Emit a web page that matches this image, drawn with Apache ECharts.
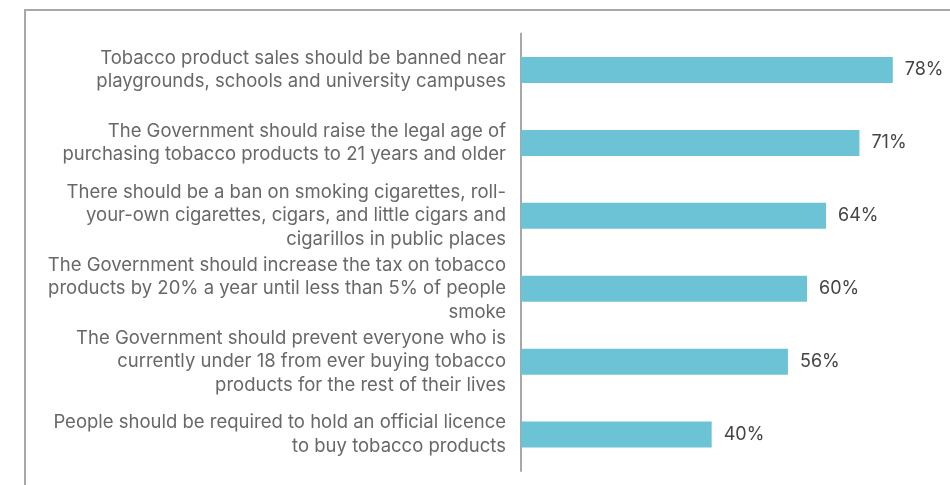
<!DOCTYPE html>
<html>
<head>
<meta charset="utf-8">
<script src="https://cdn.jsdelivr.net/npm/echarts@6/dist/echarts.min.js"></script>
<style>
  html, body { margin: 0; padding: 0; background: #fff; }
  #chart { width: 950px; height: 485px; }
</style>
</head>
<body>
<div id="chart"></div>
<script>
// Survey statements (top to bottom) and the share who agree with each
const statements = [
  'Tobacco product sales should be banned near\nplaygrounds, schools and university campuses',
  'The Government should raise the legal age of\npurchasing tobacco products to 21 years and older',
  'There should be a ban on smoking cigarettes, roll-\nyour-own cigarettes, cigars, and little cigars and\ncigarillos in public places',
  'The Government should increase the tax on tobacco\nproducts by 20% a year until less than 5% of people\nsmoke',
  'The Government should prevent everyone who is\ncurrently under 18 from ever buying tobacco\nproducts for the rest of their lives',
  'People should be required to hold an official licence\nto buy tobacco products'
];
const agreePct = [78, 71, 64, 60, 56, 40];

const textFont = 'Inter, Liberation Sans, Arial, sans-serif';

const chart = echarts.init(document.getElementById('chart'), null, { renderer: 'canvas' });

chart.setOption({
  animation: false,
  backgroundColor: '#ffffff',
  graphic: [{
    type: 'rect',
    shape: { x: 25, y: 10, width: 1000, height: 1000 },
    style: { fill: 'none', stroke: '#a8a8a8', lineWidth: 2 },
    silent: true
  }],
  grid: { left: 521, right: 0, top: 33.5, bottom: 14, containLabel: false },
  xAxis: {
    type: 'value',
    min: 0,
    max: 90,
    show: false
  },
  yAxis: {
    type: 'category',
    inverse: true,
    data: statements,
    axisLine: { show: true, lineStyle: { color: '#a8a8a8', width: 2 } },
    axisTick: { show: false },
    axisLabel: {
      margin: 15,
      align: 'right',
      color: '#686868',
      fontFamily: textFont,
      fontSize: 18.5,
      lineHeight: 23.5
    }
  },
  series: [{
    type: 'bar',
    data: agreePct,
    barWidth: 26,
    itemStyle: { color: '#6cc3d5' },
    label: {
      show: true,
      position: 'right',
      distance: 12,
      formatter: '{c}%',
      color: '#444444',
      fontFamily: textFont,
      fontSize: 18
    }
  }]
});
</script>
</body>
</html>
